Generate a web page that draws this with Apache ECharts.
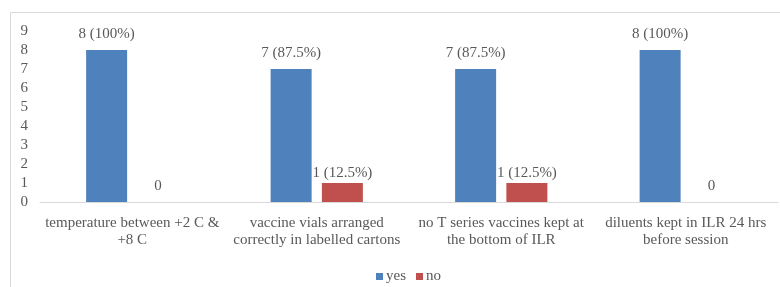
<!DOCTYPE html>
<html>
<head>
<meta charset="utf-8">
<script src="https://cdn.jsdelivr.net/npm/echarts@6/dist/echarts.min.js"></script>
<style>
	html, body { margin: 0; padding: 0; background: #fff; }
	#myChart { width: 780px; height: 287px; }
</style>
</head>
<body>
<div id="myChart"></div>
<script type="text/javascript">
	var categories = [
		'temperature between +2 C &\n+8 C',
		'vaccine vials arranged\ncorrectly in labelled cartons',
		'no T series vaccines kept at\nthe bottom of ILR',
		'diluents kept in ILR 24 hrs\nbefore session'
	];
	var yesValues = [8, 7, 7, 8];
	var noValues = [0, 1, 1, 0];
	var yesLabels = ['8 (100%)', '7 (87.5%)', '7 (87.5%)', '8 (100%)'];
	var noLabels = ['0', '1 (12.5%)', '1 (12.5%)', '0'];

	var font = 'Liberation Serif';
	var grey = '#595959';

	var myChart = echarts.init(document.getElementById('myChart'));
	// 标签文字取自数组
	function build(values, labels, dist) {
		return values.map(function (v, i) {
			return {
				value: v,
				label: { formatter: labels[i], distance: v === 1 ? 2 : dist }
			};
		});
	}
	var option = {
		animation: false,
		textStyle: { fontFamily: font },
		graphic: [{
			type: 'rect',
			shape: { x: 10.5, y: 12.5, width: 800, height: 300 },
			style: { fill: 'none', stroke: '#d9d9d9', lineWidth: 1 },
			silent: true
		}],
		legend: {
			left: 371,
			top: 264,
			itemWidth: 7,
			itemHeight: 7,
			itemGap: 10,
			icon: 'rect',
			textStyle: { fontFamily: font, fontSize: 15, color: grey, padding: [0, 0, 0, -2] },
			data: ['yes', 'no']
		},
		grid: {
			left: 40,
			right: 2,
			top: 31,
			bottom: 85
		},
		xAxis: {
			type: 'category',
			data: categories,
			axisLine: { lineStyle: { color: '#d9d9d9' } },
			axisTick: { show: false },
			axisLabel: {
				fontFamily: font,
				fontSize: 15,
				color: grey,
				margin: 13,
				lineHeight: 17,
				interval: 0
			}
		},
		yAxis: {
			type: 'value',
			min: 0,
			max: 9,
			interval: 1,
			splitLine: { show: false },
			axisLine: { show: false },
			axisTick: { show: false },
			axisLabel: { fontFamily: font, fontSize: 15, color: grey, margin: 12 }
		},
		series: [
			{
				name: 'yes',
				type: 'bar',
				barWidth: 41,
				barGap: '25%',
				itemStyle: { color: '#4F81BD' },
				label: { show: true, position: 'top', fontFamily: font, fontSize: 15, color: grey },
				data: build(yesValues, yesLabels, 8)
			},
			{
				name: 'no',
				type: 'bar',
				barWidth: 41,
				itemStyle: { color: '#C0504D' },
				label: { show: true, position: 'top', fontFamily: font, fontSize: 15, color: grey },
				data: build(noValues, noLabels, 8)
			}
		]
	};
	myChart.setOption(option);
</script>
</body>
</html>
